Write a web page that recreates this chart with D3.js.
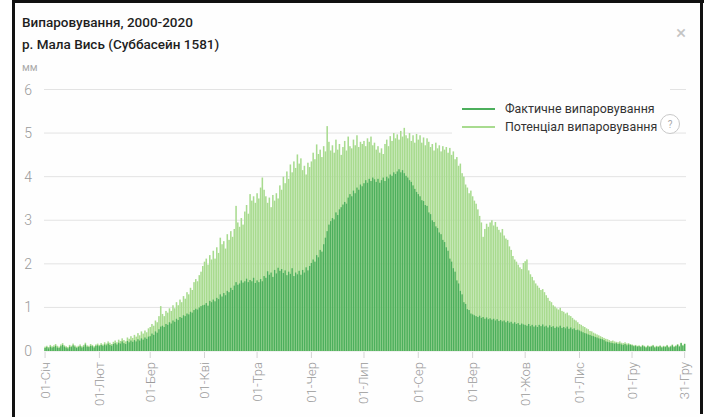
<!DOCTYPE html>
<html>
<head>
<meta charset="utf-8">
<script src="https://cdn.jsdelivr.net/npm/d3@7"></script>
<style>
  body { margin: 0; background: #fff; }
  svg { display: block; font-family: Roboto, "Noto Sans", sans-serif; }
</style>
</head>
<body>
<svg id="chart" width="706" height="417"></svg>
<script>
// Daily evaporation, mm (mean of 2000-2020), by month
const potJan = [0.10,0.12,0.09,0.14,0.11,0.13,0.16,0.12,0.10,0.15,0.18,0.13,0.11,0.09,0.14,0.12,0.17,0.13,0.10,0.12,0.15,0.11,0.14,0.19,0.13,0.12,0.16,0.14,0.11,0.15,0.17];
const potFeb = [0.14,0.18,0.15,0.20,0.17,0.22,0.19,0.16,0.21,0.24,0.20,0.26,0.23,0.29,0.25,0.22,0.31,0.28,0.34,0.30,0.37,0.33,0.41,0.36,0.45,0.40,0.47,0.43,0.52];
const potMar = [0.55,0.62,0.58,0.70,0.66,0.80,1.03,0.85,0.80,0.92,0.88,0.98,0.92,1.05,0.98,1.12,1.05,1.18,1.12,1.26,1.20,1.35,1.30,1.45,1.40,1.58,1.65,1.60,1.74,1.82,1.95];
const potApr = [2.05,2.12,1.98,2.20,2.10,2.30,2.12,2.38,2.25,2.60,2.45,2.52,2.35,2.68,2.55,2.75,2.62,2.80,3.33,2.95,2.85,3.05,2.90,3.20,3.35,3.15,3.60,3.45,3.55,3.40];
const potMay = [3.62,3.50,3.75,3.98,3.70,3.55,3.40,3.52,3.30,3.58,3.45,3.62,3.50,3.80,3.70,4.00,3.85,4.12,3.95,4.28,4.10,4.35,4.20,4.51,4.30,4.42,4.15,4.25,4.05,4.32,4.22];
const potJun = [4.35,4.55,4.40,4.74,4.52,4.62,4.45,4.70,4.58,5.16,4.80,4.60,4.72,4.55,4.85,4.62,4.75,4.50,4.68,4.82,4.60,4.92,4.70,4.65,4.85,4.72,4.95,4.68,4.80,4.75];
const potJul = [4.82,4.70,4.88,4.80,4.92,4.72,4.78,4.62,4.70,4.55,4.65,4.52,4.75,4.85,4.70,4.93,4.82,5.00,4.88,4.97,4.85,5.05,4.92,5.12,4.95,4.88,5.00,4.82,4.95,4.78,4.98];
const potAug = [4.85,4.95,4.78,4.90,4.72,4.88,4.80,4.68,4.75,4.60,4.78,4.65,4.72,4.58,4.70,4.62,4.68,4.55,4.66,4.50,4.58,4.40,4.45,4.25,4.30,4.08,4.00,3.82,3.75,3.62,3.68];
const potSep = [3.55,3.45,3.38,3.25,3.10,2.95,2.62,2.80,2.92,2.85,2.95,3.00,2.88,2.96,2.85,2.78,2.72,2.80,2.65,2.58,2.55,2.40,2.32,2.18,2.10,2.05,1.98,1.92,1.88,2.02];
const potOct = [2.06,2.10,1.85,1.76,1.70,1.62,1.55,1.50,1.45,1.40,1.42,1.35,1.28,1.22,1.15,1.12,1.05,1.02,0.98,0.95,0.99,0.92,0.90,0.86,0.88,0.82,0.80,0.76,0.72,0.70,0.66];
const potNov = [0.62,0.60,0.57,0.55,0.52,0.50,0.46,0.45,0.42,0.40,0.38,0.36,0.34,0.32,0.30,0.28,0.27,0.25,0.23,0.24,0.22,0.21,0.20,0.22,0.19,0.18,0.20,0.17,0.18,0.16];
const potDec = [0.15,0.13,0.14,0.12,0.13,0.11,0.14,0.12,0.10,0.13,0.11,0.12,0.14,0.10,0.12,0.11,0.13,0.10,0.12,0.11,0.14,0.10,0.12,0.15,0.11,0.13,0.16,0.12,0.19,0.14,0.17];

const actJan = [0.07,0.09,0.06,0.10,0.08,0.09,0.12,0.08,0.07,0.11,0.14,0.10,0.08,0.06,0.10,0.09,0.13,0.10,0.07,0.09,0.11,0.08,0.10,0.15,0.10,0.09,0.12,0.11,0.08,0.12,0.13];
const actFeb = [0.11,0.14,0.12,0.15,0.13,0.17,0.14,0.12,0.16,0.18,0.15,0.19,0.17,0.22,0.18,0.16,0.23,0.20,0.24,0.21,0.25,0.22,0.27,0.24,0.29,0.26,0.31,0.28,0.33];
const actMar = [0.34,0.40,0.37,0.45,0.42,0.50,0.56,0.58,0.55,0.62,0.60,0.66,0.63,0.70,0.67,0.74,0.71,0.78,0.76,0.82,0.80,0.86,0.84,0.90,0.88,0.94,0.97,0.95,1.00,1.03,1.05];
const actApr = [1.06,1.10,1.04,1.15,1.12,1.18,1.14,1.22,1.19,1.30,1.25,1.33,1.28,1.38,1.35,1.45,1.40,1.50,1.58,1.52,1.55,1.62,1.57,1.60,1.66,1.58,1.63,1.60,1.68,1.56];
const actMay = [1.62,1.58,1.65,1.60,1.72,1.68,1.83,1.75,1.80,1.70,1.86,1.78,1.91,1.84,1.88,1.79,1.85,1.74,1.82,1.77,1.90,1.72,1.80,1.76,1.84,1.75,1.86,1.80,1.92,1.85,1.95];
const actJun = [2.02,2.10,2.05,2.20,2.15,2.32,2.28,2.45,2.60,2.75,2.90,2.98,3.05,3.02,3.18,3.12,3.25,3.30,3.36,3.42,3.38,3.52,3.60,3.55,3.68,3.62,3.75,3.70,3.82,3.78];
const actJul = [3.85,3.92,3.86,3.95,3.90,3.98,3.94,3.88,3.95,3.86,3.92,3.98,3.90,4.00,3.96,4.05,4.02,4.10,4.06,4.12,4.17,4.10,4.15,4.08,4.02,3.98,3.92,3.88,3.80,3.72,3.65];
const actAug = [3.60,3.55,3.46,3.44,3.35,3.33,3.18,3.14,3.00,2.96,2.86,2.82,2.72,2.68,2.55,2.50,2.38,2.30,2.12,2.05,1.90,1.82,1.62,1.55,1.38,1.30,1.12,1.08,0.96,0.94,0.86];
const actSep = [0.84,0.82,0.80,0.78,0.81,0.76,0.78,0.74,0.77,0.73,0.75,0.72,0.74,0.70,0.73,0.69,0.71,0.68,0.70,0.66,0.69,0.65,0.67,0.63,0.66,0.62,0.64,0.60,0.63,0.61];
const actOct = [0.60,0.58,0.62,0.57,0.60,0.56,0.59,0.55,0.60,0.57,0.61,0.56,0.58,0.54,0.59,0.55,0.57,0.53,0.56,0.54,0.58,0.53,0.55,0.52,0.56,0.51,0.54,0.50,0.52,0.48,0.49];
const actNov = [0.47,0.45,0.43,0.41,0.40,0.38,0.37,0.35,0.34,0.32,0.31,0.29,0.28,0.27,0.25,0.22,0.21,0.20,0.19,0.18,0.17,0.18,0.16,0.17,0.15,0.14,0.16,0.13,0.15,0.14];
const actDec = [0.13,0.11,0.12,0.10,0.11,0.09,0.12,0.10,0.08,0.11,0.09,0.10,0.12,0.08,0.10,0.09,0.11,0.08,0.10,0.09,0.12,0.08,0.10,0.13,0.09,0.11,0.14,0.10,0.18,0.12,0.16];

// Axis ticks: day-of-year index and label
const tickDays   = [0, 31, 60, 91, 121, 152, 182, 213, 244, 274, 305, 335, 365];
const tickLabels = ["01-Січ","01-Лют","01-Бер","01-Кві","01-Тра","01-Чер","01-Лип","01-Сер","01-Вер","01-Жов","01-Лис","01-Гру","31-Гру"];
const yTicks = [0, 1, 2, 3, 4, 5, 6];

const potential = [].concat(potJan, potFeb, potMar, potApr, potMay, potJun, potJul, potAug, potSep, potOct, potNov, potDec);
const actual    = [].concat(actJan, actFeb, actMar, actApr, actMay, actJun, actJul, actAug, actSep, actOct, actNov, actDec);
const days = d3.range(potential.length);

const svg = d3.select("#chart");
const DARK = "#4caf5c", LIGHT = "#a8db8f";

// card background
svg.append("rect").attr("x", 0).attr("y", 0).attr("width", 706).attr("height", 417).attr("fill", "#fff");
svg.append("rect").attr("x", 14).attr("y", 3).attr("width", 687).attr("height", 420).attr("fill", "#fefefe");

const x = d3.scaleBand().domain(days).range([44.2, 685.5]).paddingInner(0);
const y = d3.scaleLinear().domain([0, 6]).range([351, 89.5]);

// grid
svg.append("g").selectAll("line").data(yTicks).join("line")
  .attr("x1", 44).attr("x2", 686)
  .attr("y1", d => y(d)).attr("y2", d => y(d))
  .attr("stroke", "#e3e3e3").attr("stroke-width", 1);

svg.append("g").selectAll("text").data(yTicks).join("text")
  .attr("x", 32).attr("y", d => y(d) + 5)
  .attr("text-anchor", "end")
  .attr("font-size", 14).attr("font-weight", 300).attr("fill", "#9a9a9a")
  .text(d => d);

// potential evaporation behind, actual in front
const bw = x.bandwidth();
svg.append("g").selectAll("rect").data(days).join("rect")
  .attr("x", d => x(d) + bw * 0.06).attr("width", bw * 0.88)
  .attr("y", d => y(potential[d])).attr("height", d => y(0) - y(potential[d]))
  .attr("fill", LIGHT);
svg.append("g").selectAll("rect").data(days).join("rect")
  .attr("x", d => x(d) + bw * 0.12).attr("width", bw * 0.76)
  .attr("y", d => y(actual[d])).attr("height", d => y(0) - y(actual[d]))
  .attr("fill", DARK);

// x axis
const xAxis = svg.append("g");
xAxis.selectAll("line").data(tickDays).join("line")
  .attr("x1", d => x(d) + bw / 2).attr("x2", d => x(d) + bw / 2)
  .attr("y1", 352).attr("y2", 358)
  .attr("stroke", "#d5d5d5");
xAxis.selectAll("text").data(tickDays).join("text")
  .attr("transform", d => `translate(${x(d) + bw / 2 + 4.5},362) rotate(-90)`)
  .attr("text-anchor", "end")
  .attr("font-size", 13).attr("font-weight", 300).attr("fill", "#9a9a9a")
  .text((d, i) => tickLabels[i]);

// titles
svg.append("text").attr("x", 22).attr("y", 27)
  .attr("font-size", 13.5).attr("font-weight", 500).attr("fill", "#1e1e1e")
  .text("Випаровування, 2000-2020");
svg.append("text").attr("x", 22).attr("y", 49)
  .attr("font-size", 13.5).attr("font-weight", 500).attr("fill", "#1e1e1e")
  .text("р. Мала Вись (Суббасейн 1581)");
svg.append("text").attr("x", 22).attr("y", 71)
  .attr("font-size", 10.5).attr("fill", "#aaa")
  .text("мм");

// close mark
svg.append("text").attr("x", 681).attr("y", 39).attr("text-anchor", "middle")
  .attr("font-size", 19).attr("fill", "#c4c4c4").text("×");

// legend
const legend = svg.append("g");
legend.append("rect").attr("x", 452).attr("y", 82).attr("width", 218).attr("height", 56).attr("fill", "#fefefe");
const items = [
  { label: "Фактичне випаровування", color: DARK, yy: 109 },
  { label: "Потенціал випаровування", color: LIGHT, yy: 127 }
];
legend.selectAll("line").data(items).join("line")
  .attr("x1", 462).attr("x2", 495).attr("y1", d => d.yy).attr("y2", d => d.yy)
  .attr("stroke", d => d.color).attr("stroke-width", 2);
legend.selectAll("text").data(items).join("text")
  .attr("x", 505).attr("y", d => d.yy + 4)
  .attr("font-size", 12.4).attr("fill", "#333")
  .text(d => d.label);
legend.append("circle").attr("cx", 670).attr("cy", 124).attr("r", 9.5)
  .attr("fill", "#fff").attr("stroke", "#c8c8c8");
legend.append("text").attr("x", 670).attr("y", 128).attr("text-anchor", "middle")
  .attr("font-size", 10).attr("fill", "#aaa").text("?");

// dark frame edges
svg.append("rect").attr("x", 12).attr("y", 0).attr("width", 692).attr("height", 3).attr("fill", "#111");
svg.append("rect").attr("x", 12).attr("y", 0).attr("width", 3).attr("height", 417).attr("fill", "#111");
svg.append("rect").attr("x", 700).attr("y", 0).attr("width", 3).attr("height", 414).attr("fill", "#111");
</script>
</body>
</html>
